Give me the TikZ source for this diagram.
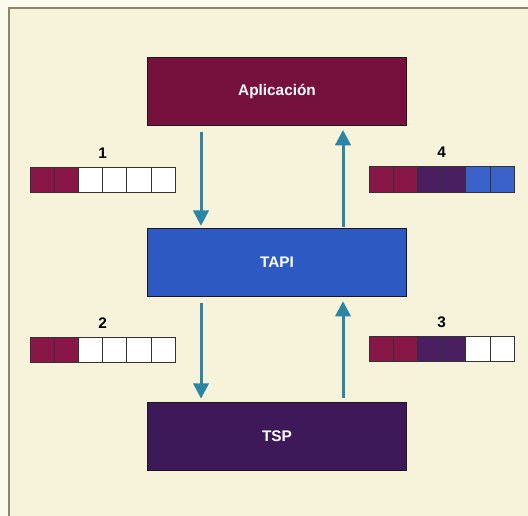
\documentclass[tikz,border=0pt]{standalone}
\usepackage{fontspec}
\setmainfont{Liberation Sans}
\usetikzlibrary{arrows.meta,calc}
\definecolor{paper}{HTML}{FCFAEA}
\definecolor{panel}{HTML}{F7F3DA}
\definecolor{framec}{HTML}{8C8670}
\definecolor{appc}{HTML}{76103C}
\definecolor{tapic}{HTML}{2D5AC2}
\definecolor{tspc}{HTML}{3D195A}
\definecolor{cellA}{HTML}{881647}
\definecolor{cellB}{HTML}{4A1F62}
\definecolor{cellC}{HTML}{3A62C8}
\definecolor{arrowc}{HTML}{2A86A6}
\tikzset{
  layer/.style={draw=black!90, line width=1pt, minimum width=194.25pt, minimum height=51pt, inner sep=0pt, text=white, font=\fontsize{11.5}{13}\selectfont\bfseries},
  flow/.style={draw=arrowc, line width=2.25pt, -{Triangle[length=11.5pt,width=11.5pt]}},
  cell/.style={draw=black!80, line width=0.6pt, minimum width=18.15pt, minimum height=19pt, inner sep=0pt, outer sep=0pt},
  numlabel/.style={font=\fontsize{11.5}{13}\selectfont\bfseries, inner sep=0pt}
}
\begin{document}
\begin{tikzpicture}[x=0.75pt,y=-0.75pt]
\fill[paper] (0,0) rectangle (528,516);
\useasboundingbox (0,0) rectangle (528,516);
\fill[panel] (9,8) rectangle (528,516);
\draw[framec, line width=0.8pt] (9,516) -- (9,8) -- (528,8);
% layers
\node[layer, fill=appc] (app) at (277,91.3) {Aplicación};
\node[layer, fill=tapic] (tapi) at (277,262.5) {TAPI};
\node[layer, fill=tspc] (tsp) at (277,436.3) {TSP};
% flows
\draw[flow] ($(app.south)+(-76,6)$) -- ($(tapi.north)+(-76,-2)$);
\draw[flow] ($(tapi.north)+(66,-1)$) -- ($(app.south)+(66,4)$);
\draw[flow] ($(tapi.south)+(-76,6)$) -- ($(tsp.north)+(-76,-3)$);
\draw[flow] ($(tsp.north)+(66,-4)$) -- ($(tapi.south)+(66,4)$);
% strips
\foreach \nm/\x/\y/\ca/\cb/\cc/\cd/\ce/\cf/\lab in {
  s1/30/180/cellA/cellA/white/white/white/white/1,
  s2/30/350/cellA/cellA/white/white/white/white/2,
  s3/369/348.8/cellA/cellA/cellB/cellB/white/white/3,
  s4/369/179.4/cellA/cellA/cellB/cellB/cellC/cellC/4}{
  \node[cell, fill=\ca, anchor=west] (\nm c1) at (\x,\y) {};
  \node[cell, fill=\cb, anchor=west] (\nm c2) at (\nm c1.east) {};
  \node[cell, fill=\cc, anchor=west] (\nm c3) at (\nm c2.east) {};
  \node[cell, fill=\cd, anchor=west] (\nm c4) at (\nm c3.east) {};
  \node[cell, fill=\ce, anchor=west] (\nm c5) at (\nm c4.east) {};
  \node[cell, fill=\cf, anchor=west] (\nm c6) at (\nm c5.east) {};
  \node[numlabel, anchor=south] (\nm lab) at ([yshift=6.5pt]\nm c3.north east) {\lab};
}
\end{tikzpicture}
\end{document}
